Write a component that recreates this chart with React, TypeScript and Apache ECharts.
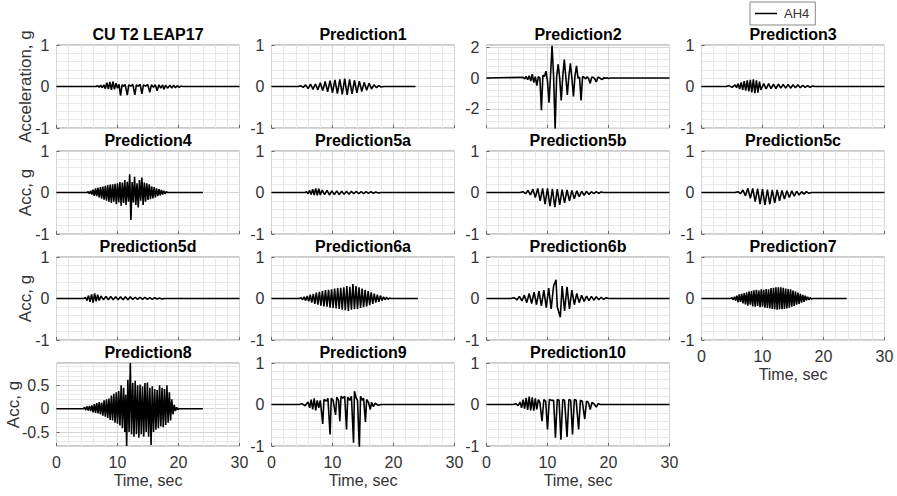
import React, { useEffect, useRef } from 'react';
import * as echarts from 'echarts';

type Rec = [number, number][];

const FONT = '"Liberation Sans", Arial, Helvetica, sans-serif';

const panelTitles = [
  'CU T2 LEAP17', 'Prediction1', 'Prediction2', 'Prediction3',
  'Prediction4', 'Prediction5a', 'Prediction5b', 'Prediction5c',
  'Prediction5d', 'Prediction6a', 'Prediction6b', 'Prediction7',
  'Prediction8', 'Prediction9', 'Prediction10',
];

// end time of each record (s)
const recordEnd = [30, 23.6, 30, 30, 24, 30, 30, 30, 30, 24, 30, 23.8, 24, 30, 30];

// y-axis extents
const yMin = [-1, -1, -3.25, -1, -1, -1, -1, -1, -1, -1, -1, -1, -0.8, -1, -1];
const yMax = [1, 1, 2.15, 1, 1, 1, 1, 1, 1, 1, 1, 1, 0.98, 1, 1];

const xTicks = [0, 10, 20, 30];
const legendName = 'AH4';

const cuT2: Rec = [[6.5,0],[6.75,0.02],[7,-0.02],[7.25,0.03],[7.5,-0.03],[7.75,0.04],[8,-0.05],[8.25,0.09],[8.5,-0.06],[8.75,0.11],[9,-0.08],[9.25,0.12],[9.5,-0.07],[9.75,0.08],[10,-0.04],[10.25,0.05],[10.5,-0.22],[10.75,0.04],[11,0.01],[11.25,0.05],[11.6,-0.21],[11.85,0.04],[12.2,0.01],[12.5,0.05],[12.85,-0.2],[13.1,0.04],[13.4,0.01],[13.7,0.05],[14,-0.18],[14.25,0.04],[14.6,0.01],[14.95,0.05],[15.3,-0.14],[15.55,0.04],[15.9,-0.02],[16.2,0.04],[16.5,-0.1],[16.8,0.04],[17.1,-0.04],[17.4,0.04],[17.6,-0.07],[17.9,0.03],[18.2,-0.04],[18.6,0.03],[18.9,-0.04],[19.2,0.03],[19.5,-0.03],[19.8,0.02],[20.1,-0.02],[20.4,0.01],[20.7,0]];

const pred1: Rec = [[4.4,0],[4.8,0.02],[5.2,-0.02],[5.6,0.04],[6,-0.05],[6.4,0.06],[6.8,-0.07],[7.2,0.06],[7.6,-0.08],[8,0.09],[8.4,-0.1],[8.8,0.12],[9.2,-0.13],[9.6,0.14],[10,-0.15],[10.4,0.16],[10.8,-0.17],[11.2,0.17],[11.6,-0.19],[12,0.19],[12.4,-0.2],[12.8,0.17],[13.2,-0.18],[13.6,0.15],[14,-0.15],[14.4,0.13],[14.8,-0.12],[15.2,0.1],[15.6,-0.09],[16,0.08],[16.4,-0.06],[16.8,0.04],[17.2,-0.03],[17.6,0.02],[18,-0.01],[18.4,0]];

const pred2: Rec = [[6,0.05],[6.25,-0.05],[6.5,0.1],[6.75,-0.1],[7,0.15],[7.25,-0.2],[7.5,0.25],[7.75,-0.3],[8,0.1],[8.25,-0.5],[8.5,0.1],[8.75,0],[9,-2.1],[9.25,0.2],[9.5,0.1],[9.75,0.45],[10,-0.2],[10.25,-1.6],[10.5,0.2],[10.75,2.1],[11,0.1],[11.25,-3.3],[11.5,0.1],[11.75,0.9],[12,0],[12.25,-1.45],[12.5,0.1],[12.75,1.2],[13,0.1],[13.25,-1.1],[13.5,0.1],[13.75,0.95],[14,0],[14.25,-1.2],[14.5,0.1],[14.75,0.8],[15,0],[15.25,0.05],[15.5,-1.45],[15.75,0.1],[16,0.05],[16.25,-0.05],[16.5,0.08],[16.75,-0.05],[17,-0.35],[17.25,0.05],[17.5,0.05],[17.75,-0.05],[18,-0.25],[18.25,0.05],[18.5,0.03],[18.75,-0.05],[19,-0.1],[19.25,0.03],[19.5,-0.02],[19.75,0.02],[20,-0.03],[20.3,0]];

const pred3: Rec = [[4,0],[4.5,0.02],[5,-0.02],[5.5,0.04],[5.75,-0.03],[6,0.07],[6.25,-0.06],[6.5,0.1],[6.75,-0.08],[7,0.13],[7.25,-0.1],[7.5,0.15],[7.75,-0.12],[8,0.16],[8.25,-0.14],[8.5,0.17],[8.75,-0.16],[9,0.15],[9.25,-0.15],[9.5,0.12],[9.75,-0.08],[10.2,0.07],[10.6,-0.06],[11,0.07],[11.4,-0.05],[11.8,0.06],[12.2,-0.05],[12.6,0.06],[13,-0.04],[13.4,0.05],[13.8,-0.04],[14.2,0.05],[14.6,-0.04],[15,0.04],[15.4,-0.03],[15.8,0.04],[16.2,-0.03],[16.6,0.03],[17,-0.02],[17.4,0.02],[17.8,-0.02],[18.2,0.01],[18.6,0]];

const pred4: Rec = [[5,0],[5.2,0.02],[5.4,-0.03],[5.6,0.04],[5.8,-0.05],[6,0.07],[6.2,-0.08],[6.4,0.1],[6.6,-0.09],[6.8,0.11],[7,-0.12],[7.2,0.13],[7.4,-0.15],[7.6,0.14],[7.8,-0.17],[8,0.16],[8.2,-0.2],[8.4,0.18],[8.6,-0.22],[8.8,0.19],[9,-0.25],[9.2,0.2],[9.4,-0.22],[9.6,0.21],[9.8,-0.28],[10,0.22],[10.2,-0.24],[10.4,0.25],[10.6,-0.32],[10.8,0.24],[11,-0.25],[11.2,0.3],[11.4,-0.3],[11.6,0.26],[11.8,-0.22],[12,0.44],[12.2,-0.66],[12.4,0.25],[12.6,-0.24],[12.8,0.38],[13,-0.3],[13.2,0.22],[13.4,-0.36],[13.6,0.3],[13.8,-0.2],[14,0.36],[14.2,-0.3],[14.4,0.24],[14.6,-0.22],[14.8,0.22],[15,-0.18],[15.2,0.2],[15.4,-0.16],[15.6,0.15],[15.8,-0.14],[16,0.13],[16.2,-0.12],[16.4,0.1],[16.6,-0.09],[16.8,0.08],[17,-0.07],[17.2,0.06],[17.4,-0.05],[17.6,0.04],[17.8,-0.03],[18,0.02],[18.2,0]];

const pred5a: Rec = [[5.5,0],[5.75,0.02],[6,-0.03],[6.25,0.05],[6.5,-0.05],[6.75,0.08],[7,-0.06],[7.25,0.1],[7.5,-0.07],[7.75,0.09],[8,-0.06],[8.3,0.06],[8.7,-0.05],[9.1,0.05],[9.5,-0.06],[9.9,0.04],[10.3,-0.05],[10.7,0.04],[11.1,-0.05],[11.5,0.03],[11.9,-0.04],[12.3,0.03],[12.7,-0.04],[13.1,0.03],[13.5,-0.03],[13.9,0.03],[14.3,-0.03],[14.7,0.02],[15.1,-0.03],[15.5,0.02],[15.9,-0.02],[16.3,0.02],[16.7,-0.02],[17.1,0.01],[17.5,-0.01],[18,0]];

const pred5b: Rec = [[5.5,0],[6,0.02],[6.4,-0.03],[6.8,0.05],[7.2,-0.06],[7.6,0.08],[8,-0.12],[8.4,0.1],[8.8,-0.2],[9.2,0.1],[9.6,-0.28],[10,0.1],[10.4,-0.33],[10.8,0.09],[11.2,-0.35],[11.6,0.08],[12,-0.3],[12.4,0.07],[12.8,-0.25],[13.2,0.06],[13.6,-0.2],[14,0.05],[14.4,-0.15],[14.8,0.04],[15.2,-0.1],[15.6,0.03],[16,-0.07],[16.4,0.03],[16.8,-0.05],[17.2,0.02],[17.6,-0.03],[18,0.02],[18.4,-0.02],[18.8,0.01],[19.2,0]];

const pred5c: Rec = [[5.5,0],[6,0.02],[6.4,-0.03],[6.8,0.06],[7.2,-0.08],[7.6,0.1],[8,-0.14],[8.4,0.1],[8.8,-0.22],[9.2,0.09],[9.6,-0.28],[10,0.08],[10.4,-0.3],[10.8,0.07],[11.2,-0.28],[11.6,0.06],[12,-0.25],[12.4,0.06],[12.8,-0.2],[13.2,0.05],[13.6,-0.16],[14,0.04],[14.4,-0.12],[14.8,0.04],[15.2,-0.09],[15.6,0.03],[16,-0.06],[16.4,0.02],[16.8,-0.04],[17.2,0.02],[17.6,-0.02],[18,0]];

const pred5d: Rec = [[4.5,0],[4.75,0.03],[5,-0.05],[5.25,0.07],[5.5,-0.08],[5.75,0.1],[6,-0.1],[6.25,0.12],[6.5,-0.07],[6.75,0.09],[7,-0.05],[7.3,0.06],[7.7,-0.03],[8.1,0.05],[8.5,-0.03],[8.9,0.05],[9.3,-0.03],[9.7,0.04],[10.1,-0.03],[10.5,0.04],[10.9,-0.03],[11.3,0.04],[11.7,-0.03],[12.1,0.04],[12.5,-0.02],[12.9,0.03],[13.3,-0.02],[13.7,0.03],[14.1,-0.02],[14.5,0.03],[14.9,-0.02],[15.3,0.02],[15.7,-0.02],[16.1,0.02],[16.5,-0.01],[16.9,0.01],[17.3,-0.01],[17.8,0]];

const pred6a: Rec = [[4.6,0],[4.85,0.02],[5.1,-0.03],[5.35,0.04],[5.6,-0.05],[5.85,0.06],[6.1,-0.07],[6.35,0.09],[6.6,-0.1],[6.85,0.11],[7.1,-0.13],[7.35,0.14],[7.6,-0.15],[7.85,0.16],[8.1,-0.17],[8.35,0.18],[8.6,-0.19],[8.85,0.2],[9.1,-0.2],[9.35,0.21],[9.6,-0.22],[9.85,0.22],[10.1,-0.23],[10.35,0.24],[10.6,-0.24],[10.85,0.25],[11.1,-0.25],[11.35,0.26],[11.6,-0.27],[11.85,0.27],[12.1,-0.28],[12.35,0.3],[12.6,-0.3],[12.85,0.28],[13.1,-0.27],[13.35,0.35],[13.6,-0.26],[13.85,0.3],[14.1,-0.25],[14.35,0.27],[14.6,-0.23],[14.85,0.24],[15.1,-0.21],[15.35,0.21],[15.6,-0.19],[15.85,0.18],[16.1,-0.16],[16.35,0.15],[16.6,-0.13],[16.85,0.12],[17.1,-0.1],[17.35,0.09],[17.6,-0.08],[17.85,0.07],[18.1,-0.05],[18.35,0.04],[18.6,-0.03],[18.85,0.03],[19.1,-0.02],[19.35,0.01],[19.6,0]];

const pred6b: Rec = [[4,0],[4.5,0.02],[5,-0.03],[5.4,0.05],[5.8,-0.06],[6.2,0.08],[6.6,-0.1],[7,0.12],[7.4,-0.12],[7.8,0.15],[8.2,-0.15],[8.6,0.18],[9,-0.18],[9.4,0.2],[9.8,-0.22],[10.2,0.25],[10.6,-0.25],[11,0.3],[11.4,0.45],[11.6,-0.2],[12.1,-0.45],[12.4,0.3],[12.8,-0.3],[13.2,0.28],[13.6,-0.25],[14,0.2],[14.4,-0.15],[14.8,0.12],[15.2,-0.1],[15.6,0.08],[16,-0.07],[16.4,0.06],[16.8,-0.05],[17.2,0.05],[17.6,-0.04],[18,0.04],[18.4,-0.03],[18.8,0.03],[19.2,-0.02],[19.6,0.02],[20,0]];

const pred7: Rec = [[4.8,0],[5,0.02],[5.2,-0.03],[5.4,0.04],[5.6,-0.05],[5.8,0.07],[6,-0.09],[6.2,0.1],[6.4,-0.08],[6.6,0.11],[6.8,-0.12],[7,0.13],[7.2,-0.14],[7.4,0.15],[7.6,-0.17],[7.8,0.17],[8,-0.15],[8.2,0.18],[8.4,-0.19],[8.6,0.2],[8.8,-0.2],[9,0.21],[9.2,-0.18],[9.4,0.19],[9.6,-0.21],[9.8,0.22],[10,-0.2],[10.2,0.21],[10.4,-0.22],[10.6,0.23],[10.8,-0.23],[11,0.22],[11.2,-0.24],[11.4,0.25],[11.6,-0.25],[11.8,0.26],[12,-0.26],[12.2,0.27],[12.4,-0.27],[12.6,0.27],[12.8,-0.26],[13,0.27],[13.2,-0.26],[13.4,0.26],[13.6,-0.25],[13.8,0.24],[14,-0.24],[14.2,0.23],[14.4,-0.22],[14.6,0.22],[14.8,-0.2],[15,0.19],[15.2,-0.18],[15.4,0.17],[15.6,-0.15],[15.8,0.14],[16,-0.13],[16.2,0.11],[16.4,-0.1],[16.6,0.09],[16.8,-0.08],[17,0.07],[17.2,-0.05],[17.4,0.04],[17.6,-0.03],[17.8,0.02],[18,-0.01],[18.3,0]];

const pred8: Rec = [[4.4,0],[4.6,0.03],[4.8,-0.03],[5,0.05],[5.2,-0.04],[5.4,0.06],[5.6,-0.05],[5.8,0.07],[6,-0.08],[6.2,0.1],[6.4,-0.09],[6.6,0.12],[6.8,-0.1],[7,0.14],[7.2,-0.12],[7.4,0.13],[7.6,-0.15],[7.8,0.18],[8,-0.17],[8.2,0.2],[8.4,-0.2],[8.6,0.22],[8.8,-0.24],[9,0.28],[9.2,-0.25],[9.4,0.32],[9.6,-0.3],[9.8,0.35],[10,-0.32],[10.2,0.38],[10.4,-0.36],[10.6,0.5],[10.8,-0.42],[11,0.45],[11.2,-0.5],[11.35,0.3],[11.5,-0.8],[11.7,0.62],[11.9,-0.5],[12.1,0.98],[12.3,-0.55],[12.5,0.55],[12.7,-0.6],[12.9,0.6],[13.1,-0.55],[13.3,0.5],[13.5,-0.62],[13.7,0.52],[13.9,-0.55],[14.1,0.48],[14.3,-0.6],[14.5,0.55],[14.7,-0.5],[14.9,0.56],[15.1,-0.6],[15.3,0.45],[15.5,-0.78],[15.7,0.48],[15.9,-0.5],[16.1,0.42],[16.3,-0.45],[16.5,0.4],[16.7,-0.42],[16.9,0.5],[17.1,-0.38],[17.3,0.45],[17.5,-0.4],[17.7,0.42],[17.9,-0.35],[18.1,0.5],[18.3,-0.3],[18.5,0.35],[18.7,-0.25],[18.9,0.2],[19.1,-0.12],[19.3,0.08],[19.5,-0.05],[19.7,0.03],[19.9,-0.02],[20.1,0]];

const pred9: Rec = [[4.5,0],[5,0.02],[5.5,-0.03],[6,0.06],[6.25,-0.08],[6.5,0.12],[6.75,-0.12],[7,0.15],[7.25,-0.14],[7.5,0.1],[7.75,-0.08],[8,0.1],[8.4,-0.47],[8.6,0.12],[9,0.08],[9.25,0.15],[9.6,-0.72],[9.8,0.15],[10.1,0.1],[10.5,-0.25],[10.7,0.18],[11,0.1],[11.2,-0.4],[11.4,0.2],[11.7,0.15],[12,0.2],[12.3,-0.6],[12.5,0.18],[12.8,0.1],[13.1,0.2],[13.45,-0.92],[13.6,0.32],[13.9,0.15],[14.1,0.1],[14.4,-1.05],[14.6,0.2],[14.9,0.1],[15.1,0.15],[15.4,-0.42],[15.6,0.12],[15.9,0.05],[16.2,-0.12],[16.4,0.05],[16.7,-0.05],[17,0.03],[17.5,-0.02],[18,0]];

const pred10: Rec = [[4.4,0],[4.8,0.02],[5.2,-0.03],[5.5,0.06],[5.75,-0.08],[6,0.12],[6.25,-0.1],[6.5,0.16],[6.75,-0.13],[7,0.19],[7.25,-0.14],[7.5,0.17],[7.75,-0.15],[8,0.15],[8.25,-0.12],[8.5,0.12],[8.75,0.05],[9.1,-0.4],[9.4,0.12],[9.7,0.08],[10,-0.6],[10.3,0.12],[10.6,0.1],[11,0.1],[11.3,-0.8],[11.6,0.12],[11.9,0.1],[12.2,-0.85],[12.5,0.12],[12.8,0.1],[13.2,-0.78],[13.5,0.12],[13.8,0.1],[14.1,-0.72],[14.4,0.12],[14.7,0.1],[15.1,-0.6],[15.4,0.1],[15.7,0.08],[16.1,-0.35],[16.4,0.08],[16.7,0.05],[17,-0.12],[17.3,0.05],[17.6,0.02],[18,-0.06],[18.3,0.02],[18.7,0]];

const records: Rec[] = [cuT2, pred1, pred2, pred3, pred4, pred5a, pred5b, pred5c, pred5d, pred6a, pred6b, pred7, pred8, pred9, pred10];

const xLabelPanels = [11, 12, 13, 14];

function buildOption() {
  const grid: any[] = [];
  const xAxis: any[] = [];
  const yAxis: any[] = [];
  const series: any[] = [];
  const graphic: any[] = [];
  const W = 183;
  const H = 83;

  panelTitles.forEach((title, i) => {
    const row = i < 12 ? Math.floor(i / 4) : 3;
    const col = i < 12 ? i % 4 : i - 12;
    const left = 56.5 + 215 * col;
    const top = 45 + 106 * row;
    grid.push({
      left, top, width: W, height: H, show: true,
      borderColor: '#959595', borderWidth: 1, backgroundColor: '#fff',
    });
    const showX = xLabelPanels.includes(i);
    xAxis.push({
      type: 'value', gridIndex: i, position: 'bottom',
      min: xTicks[0], max: xTicks[xTicks.length - 1], interval: 10,
      axisLine: { show: false, onZero: false },
      axisTick: { show: true, inside: true, length: 3, lineStyle: { color: '#666' } },
      axisLabel: { show: showX, fontSize: 16, color: '#333', margin: 8, fontFamily: FONT },
      splitLine: { show: true, lineStyle: { color: '#d6d6d6', width: 1 } },
      minorTick: { show: false, splitNumber: 5 },
      minorSplitLine: { show: true, lineStyle: { color: '#e8e8e8', width: 1 } },
      name: showX ? 'Time, sec' : '', nameLocation: 'middle', nameGap: 26,
      nameMoveOverlap: false,
      nameTextStyle: { fontSize: 16, color: '#333', fontFamily: FONT },
    });
    const unit = yMin[i] === -1 && yMax[i] === 1;
    yAxis.push({
      type: 'value', gridIndex: i, position: 'left', min: yMin[i], max: yMax[i],
      ...(unit ? { interval: 1 } : { splitNumber: i === 2 ? 3 : 4 }),
      axisLine: { show: false, onZero: false },
      axisTick: { show: true, inside: true, length: 3, lineStyle: { color: '#666' } },
      axisLabel: { fontSize: 16, color: '#333', margin: 7, fontFamily: FONT, showMinLabel: unit, showMaxLabel: unit },
      splitLine: { show: true, lineStyle: { color: '#d6d6d6', width: 1 } },
      minorTick: { show: false, splitNumber: 5 },
      minorSplitLine: { show: true, lineStyle: { color: '#e8e8e8', width: 1 } },
      name: col === 0 ? (row === 0 ? 'Acceleration, g' : 'Acc, g') : '',
      nameLocation: 'middle', nameRotate: 90, nameGap: i === 12 ? 35 : 23,
      nameMoveOverlap: false,
      nameTextStyle: { fontSize: 17, color: '#333', fontFamily: FONT },
    });
    const rec = records[i];
    const data: [number, number][] = [[0, 0], ...rec, [recordEnd[i], 0]];
    series.push({
      type: 'line', name: legendName, xAxisIndex: i, yAxisIndex: i,
      data, symbol: 'none', showSymbol: false, clip: true,
      lineStyle: { color: '#000', width: 1.6 }, itemStyle: { color: '#000' },
    });
    graphic.push({
      type: 'text', x: left + W / 2, y: top - 3, silent: true,
      style: {
        text: title, fill: '#000', fontSize: 16, fontWeight: 'bold', fontFamily: FONT,
        align: 'center', verticalAlign: 'bottom',
      },
    });
  });

  return {
    animation: false,
    backgroundColor: '#fff',
    grid, xAxis, yAxis, series, graphic,
    legend: {
      show: true, data: [{ name: legendName, icon: 'rect' }], left: 750, top: 2,
      padding: [5, 6, 5, 5], itemWidth: 22, itemHeight: 1.5, itemGap: 4,
      borderColor: '#888', borderWidth: 1, backgroundColor: '#fff',
      itemStyle: { color: '#000' },
      textStyle: { fontSize: 13, color: '#333', fontFamily: FONT, padding: [0, 0, 0, 2] },
      selectedMode: false,
    },
  };
}

export default function App() {
  const ref = useRef<HTMLDivElement>(null);
  useEffect(() => {
    document.body.style.margin = '0';
    const chart = echarts.init(ref.current as HTMLDivElement, null, { renderer: 'svg' });
    chart.setOption(buildOption() as any);
    return () => chart.dispose();
  }, []);
  return <div ref={ref} style={{ width: 897, height: 496 }} />;
}
